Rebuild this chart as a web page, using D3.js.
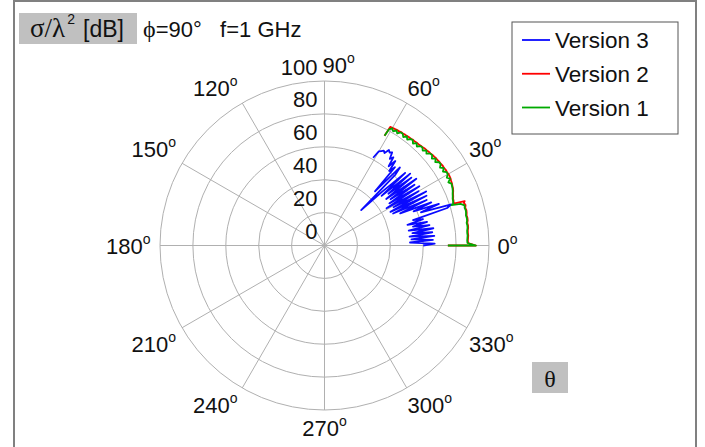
<!DOCTYPE html>
<html>
<head>
<meta charset="utf-8">
<script src="https://cdn.jsdelivr.net/npm/d3@7"></script>
<style>
  body { margin: 0; background: #fff; }
  svg { display: block; font-family: "Liberation Sans", Arial, sans-serif; }
</style>
</head>
<body>
<script>
(function() {

    var width = 705;
    var height = 447;

    // radial axis (dB) and angle ticks
    const rTicks = [0, 20, 40, 60, 80, 100];
    const angleTicks = [0, 30, 60, 90, 120, 150, 180, 210, 240, 270, 300, 330];

    const seriesNames = ["Version 3", "Version 2", "Version 1"];
    const seriesColors = ["#0a0aff", "#ff0000", "#00aa00"];

    // Version 3, theta in degrees
    const thetaV3 = [0, 1, 2, 3, 4, 5, 6, 7, 8, 9, 10, 11, 12, 13, 14, 15, 16, 17, 18, 19,
        20, 21, 22, 23, 24, 25, 26, 27, 28, 29, 30, 31, 32, 33, 34, 35, 36, 37, 38, 39,
        40, 41, 42, 43, 44, 45, 46, 47, 48, 49, 50, 51, 52, 53, 54, 55, 56, 57, 58, 59, 60, 61];
    const rcsV3 = [60, 67, 52, 66, 53, 67, 52, 66, 54, 67, 52, 65, 55, 64, 52, 62, 56, 78, 81, 62,
        74, 58, 70, 50, 68, 46, 69, 45, 70, 48, 66, 44, 68, 47, 66, 49, 69, 47, 67, 50,
        68, 46, 66, 48, 31, 61, 66, 45, 64, 60, 67, 62, 68, 66, 70, 69, 70, 67, 68, 67, 66, 61];

    // Version 2 and Version 1 share one theta grid
    const thetaV12 = [0, 0, 1, 2, 3, 4, 5, 6, 7, 8, 9, 10, 11, 12, 13, 14, 15, 16, 17, 17.6,
        18, 19, 20, 21, 22, 23, 24, 25, 26, 27, 28, 29, 30, 31, 32, 33, 34, 35, 36, 37, 38, 39,
        40, 41, 42, 43, 44, 45, 46, 47, 48, 49, 50, 51, 52, 53, 54, 55, 56, 57, 58, 59, 60, 61, 61.3];
    const rcsV2 = [75, 92, 87.3, 87.2, 87.4, 87.6, 87.5, 87.6, 88.0, 88.1, 87.9, 88.4, 88.5, 88.3, 88.7, 88.9, 88.6, 89.2, 88.6, 89.4,
        82.5, 83.0, 83.2, 83.8, 84.3, 85.0, 85.5, 85.8, 86.2, 86.4, 86.8, 86.9, 87.0, 86.8, 86.9, 86.6, 86.7, 86.4, 86.4, 86.1, 86.1, 85.8,
        85.7, 85.4, 85.2, 84.9, 84.8, 84.4, 84.3, 84.0, 84.0, 83.7, 83.8, 83.5, 83.5, 83.4, 83.3, 83.1, 83.2, 82.9, 82.9, 82.7, 82.6, 82.4, 76];
    const rcsV1 = [75, 92, 86.9, 86.8, 87.0, 87.2, 87.1, 87.2, 87.6, 87.7, 87.5, 88.0, 88.1, 87.9, 88.3, 88.5, 88.2, 88.6, 86.5, 81,
        82.2, 82.7, 82.9, 83.5, 84.0, 84.7, 85.2, 85.5, 85.9, 84.5, 86.5, 85.0, 86.5, 86.6, 84.9, 86.5, 84.7, 86.2, 86.1, 84.3, 85.8, 84.0,
        85.4, 85.2, 83.4, 84.7, 83.0, 84.2, 84.0, 82.3, 83.7, 82.0, 83.5, 83.3, 81.7, 83.2, 81.5, 82.9, 82.9, 81.2, 82.6, 81.0, 82.3, 80.5, 76];

    // center and outer radius of the polar grid
    const cx = 324.5, cy = 245.5, R = 164.5;

    const rScale = d3.scaleLinear().domain([0, 100]).range([0, R]);
    const toRad = d => d * Math.PI / 180;

    const svg = d3.select("body")
      .append("svg")
      .attr("width", width)
      .attr("height", height);

    // outer frame
    svg.append("rect")
        .attr("x", 14).attr("y", 1)
        .attr("width", 682).attr("height", height + 10)
        .attr("fill", "none")
        .attr("stroke", "#808080")
        .attr("stroke-width", 2);

    const g = svg.append("g").attr("transform", "translate(" + cx + "," + cy + ")");

    // rings
    g.selectAll("circle.ring")
        .data(rTicks.filter(d => d > 0))
        .enter()
        .append("circle")
        .attr("class", "ring")
        .attr("r", d => rScale(d))
        .attr("fill", "none")
        .attr("stroke", "#b0b0b0")
        .attr("stroke-width", 1);

    // spokes
    g.selectAll("line.spoke")
        .data(angleTicks)
        .enter()
        .append("line")
        .attr("class", "spoke")
        .attr("x1", 0).attr("y1", 0)
        .attr("x2", d => R * Math.cos(toRad(d)))
        .attr("y2", d => -R * Math.sin(toRad(d)))
        .attr("stroke", "#b0b0b0")
        .attr("stroke-width", 1);

    // radial labels, just left of the 90 degree spoke
    g.selectAll("text.rlab")
        .data(rTicks)
        .enter()
        .append("text")
        .attr("class", "rlab")
        .attr("x", -7)
        .attr("y", d => -rScale(d) - 6.5)
        .attr("text-anchor", "end")
        .style("font-size", "22px")
        .attr("fill", "#111")
        .text(d => d);

    // angle labels
    const labR = 168;
    const angLab = g.selectAll("text.alab")
        .data(angleTicks)
        .enter()
        .append("text")
        .attr("class", "alab")
        .style("font-size", "22px")
        .attr("fill", "#111")
        .attr("x", d => {
            var c = Math.cos(toRad(d)), x = labR * c;
            if (d === 0) return x + 5;
            if (d === 180) return x - 6;
            if (d === 90) return x - 2;
            if (d === 270) return x;
            return c > 0 ? x - 1 : x - 3;
        })
        .attr("y", d => {
            var s = Math.sin(toRad(d)), y = -labR * s;
            if (Math.abs(s) < 0.1) return y + 8.5;
            return s > 0 ? y - 4.5 : y + 22;
        })
        .attr("text-anchor", d => {
            if (d === 90) return "start";
            if (d === 270) return "middle";
            return Math.cos(toRad(d)) > 0 ? "start" : "end";
        });
    angLab.append("tspan").text(d => d);
    angLab.append("tspan").attr("dy", -10).style("font-size", "14px").text("o");

    // curves
    const line = d3.lineRadial()
        .angle(d => Math.PI / 2 - toRad(d[0]))
        .radius(d => rScale(d[1]));

    const series = [
        { name: seriesNames[0], color: seriesColors[0], pts: d3.zip(thetaV3, rcsV3) },
        { name: seriesNames[1], color: seriesColors[1], pts: d3.zip(thetaV12, rcsV2) },
        { name: seriesNames[2], color: seriesColors[2], pts: d3.zip(thetaV12, rcsV1) }
    ];

    g.selectAll("path.curve")
        .data(series)
        .enter()
        .append("path")
        .attr("class", "curve")
        .attr("d", d => line(d.pts))
        .attr("fill", "none")
        .attr("stroke", d => d.color)
        .attr("stroke-width", 1.8)
        .attr("stroke-linejoin", "round");

    // title box
    svg.append("rect")
        .attr("x", 19).attr("y", 13)
        .attr("width", 118).attr("height", 31)
        .attr("fill", "#c0c0c0");

    const title = svg.append("text")
        .attr("x", 30).attr("y", 37)
        .attr("fill", "#111")
        .style("font-size", "23px");
    title.append("tspan").style("font-family", "'Liberation Serif', serif").style("font-size", "27px").text("σ/λ");
    title.append("tspan").attr("dx", 2).attr("dy", -13).style("font-size", "14px").text("2");
    title.append("tspan").attr("x", 83).attr("dy", 13).text("[dB]");

    const sub = svg.append("text")
        .attr("x", 143).attr("y", 37)
        .attr("fill", "#111")
        .style("font-size", "22px");
    sub.append("tspan").style("font-family", "'Liberation Serif', serif").style("font-size", "24px").text("ϕ");
    sub.append("tspan").attr("xml:space", "preserve").text("=90°   f=1 GHz");

    // theta box
    svg.append("rect")
        .attr("x", 532).attr("y", 362)
        .attr("width", 36).attr("height", 31)
        .attr("fill", "#c0c0c0");
    svg.append("text")
        .attr("x", 550).attr("y", 386.5)
        .attr("text-anchor", "middle")
        .style("font-family", "'Liberation Serif', serif")
        .style("font-size", "24px")
        .attr("fill", "#111")
        .text("θ");

    // legend
    const legend = svg.append("g");
    legend.append("rect")
        .attr("x", 512).attr("y", 22)
        .attr("width", 166).attr("height", 112)
        .attr("fill", "#fff")
        .attr("stroke", "#555")
        .attr("stroke-width", 1);

    const legY = d3.scalePoint().domain(seriesNames).range([40, 107.5]);

    const items = legend.selectAll("g.item")
        .data(series)
        .enter()
        .append("g")
        .attr("class", "item")
        .attr("transform", d => "translate(0," + legY(d.name) + ")");
    items.append("line")
        .attr("x1", 522).attr("x2", 550)
        .attr("y1", 0).attr("y2", 0)
        .attr("stroke", d => d.color)
        .attr("stroke-width", 1.8);
    items.append("text")
        .attr("x", 555).attr("y", 8)
        .style("font-size", "22.5px")
        .attr("fill", "#111")
        .text(d => d.name);

})();
</script>
</body>
</html>
